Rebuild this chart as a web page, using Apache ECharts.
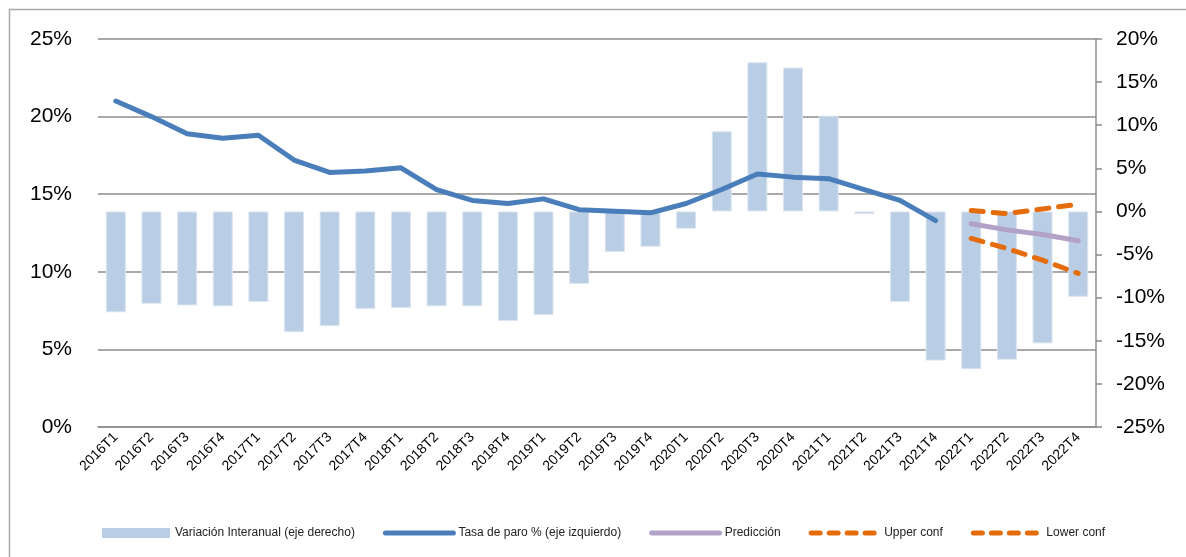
<!DOCTYPE html>
<html>
<head>
<meta charset="utf-8">
<script src="https://cdn.jsdelivr.net/npm/echarts@6/dist/echarts.min.js"></script>
<style>
  html, body { margin: 0; padding: 0; background: #fff; }
  #chart { width: 1186px; height: 557px; }
</style>
</head>
<body>
<div id="chart"></div>
<script>
// trimestres
let quarters = ['2016T1', '2016T2', '2016T3', '2016T4', '2017T1', '2017T2', '2017T3', '2017T4',
    '2018T1', '2018T2', '2018T3', '2018T4', '2019T1', '2019T2', '2019T3', '2019T4',
    '2020T1', '2020T2', '2020T3', '2020T4', '2021T1', '2021T2', '2021T3', '2021T4',
    '2022T1', '2022T2', '2022T3', '2022T4'];

// variación interanual (eje derecho, %)
let variacion = [-11.7, -10.7, -10.9, -11.0, -10.5, -14.0, -13.3, -11.3,
    -11.2, -11.0, -11.0, -12.7, -12.0, -8.4, -4.7, -4.1,
    -2.0, 9.3, 17.3, 16.7, 11.1, -0.3, -10.5, -17.3,
    -18.3, -17.2, -15.3, -9.9];

// tasa de paro (eje izquierdo, %)
let tasaParo = [21.0, 20.0, 18.9, 18.6, 18.8, 17.2, 16.4, 16.5,
    16.7, 15.3, 14.6, 14.4, 14.7, 14.0, 13.9, 13.8,
    14.4, 15.3, 16.3, 16.1, 16.0, 15.3, 14.6, 13.3,
    null, null, null, null];

// predicción y bandas de confianza (2022)
let prediccion = [13.1, 12.7, 12.4, 12.0];
let upperConf = [13.95, 13.75, 14.05, 14.35];
let lowerConf = [12.15, 11.5, 10.75, 9.9];

let leftTicks = [0, 25, 5];
let rightTicks = [-25, 20, 5];

let pad = function (arr) {
    let out = [];
    for (let i = 0; i < quarters.length - arr.length; i++) out.push(null);
    return out.concat(arr);
};

let chartDom = document.getElementById('chart');
let myChart = echarts.init(chartDom);

let axisFont = "'Liberation Sans', Arial, sans-serif";
let gridColor = '#8c8c8c';
let orange = '#e46c0a';
let dash = [12, 10];

// legend entries for lines: hide the symbol, keep only the stroke
let lineLegend = function (name, color, type) {
    return {
        name: name,
        itemStyle: { opacity: 0 },
        lineStyle: { color: color, width: 5, type: type || 'solid', cap: 'round' }
    };
};

let option = {
    animation: false,
    backgroundColor: '#fff',
    graphic: [{
        type: 'rect',
        shape: { x: 9.5, y: 9.5, width: 1400, height: 800 },
        style: { fill: null, stroke: '#ababab', lineWidth: 1.5 },
        silent: true
    }],
    grid: { left: 98, right: 90, top: 39, bottom: 130 },
    legend: {
        left: 97,
        top: 522,
        itemWidth: 68,
        itemHeight: 10,
        itemGap: 28,
        textStyle: { fontFamily: "'Liberation Sans Narrow', 'Liberation Sans', sans-serif", fontSize: 12, color: '#222' },
        data: [
            { name: 'Variación Interanual (eje derecho)', icon: 'rect', itemStyle: { borderWidth: 0 } },
            lineLegend('Tasa de paro % (eje izquierdo)', '#4a7ebb'),
            lineLegend('Predicción', '#b3a2c7'),
            lineLegend('Upper conf', orange, [9, 9]),
            lineLegend('Lower conf', orange, [9, 9])
        ]
    },
    xAxis: {
        type: 'category',
        data: quarters,
        boundaryGap: true,
        axisLine: { lineStyle: { color: gridColor, width: 1.5 } },
        axisTick: { show: false },
        axisLabel: {
            interval: 0,
            rotate: 45,
            margin: 8,
            fontFamily: axisFont,
            fontSize: 14,
            color: '#000'
        }
    },
    yAxis: [
        {
            type: 'value',
            min: leftTicks[0],
            max: leftTicks[1],
            interval: leftTicks[2],
            axisLine: { show: false },
            axisTick: { show: false },
            axisLabel: { formatter: '{value}%', fontFamily: axisFont, fontSize: 21, color: '#000', margin: 26 },
            splitLine: { lineStyle: { color: gridColor, width: 1.5 } }
        },
        {
            type: 'value',
            position: 'right',
            min: rightTicks[0],
            max: rightTicks[1],
            interval: rightTicks[2],
            axisLine: { show: true, lineStyle: { color: gridColor, width: 1.5 } },
            axisTick: { show: true, length: 6, lineStyle: { color: gridColor, width: 1.5 } },
            axisLabel: { formatter: '{value}%', fontFamily: axisFont, fontSize: 21, color: '#000', margin: 20 },
            splitLine: { show: false }
        }
    ],
    series: [
        {
            name: 'Variación Interanual (eje derecho)',
            type: 'bar',
            yAxisIndex: 1,
            barWidth: 20,
            data: variacion,
            itemStyle: { color: '#b9cde5', borderColor: '#dbe5f1', borderWidth: 1 }
        },
        {
            name: 'Tasa de paro % (eje izquierdo)',
            type: 'line',
            yAxisIndex: 0,
            data: tasaParo,
            symbol: 'none',
            lineStyle: { color: '#4a7ebb', width: 5, cap: 'round', join: 'round' },
            itemStyle: { color: '#4a7ebb' }
        },
        {
            name: 'Predicción',
            type: 'line',
            yAxisIndex: 0,
            data: pad(prediccion),
            symbol: 'none',
            lineStyle: { color: '#b3a2c7', width: 5, cap: 'round' },
            itemStyle: { color: '#b3a2c7' }
        },
        {
            name: 'Upper conf',
            type: 'line',
            yAxisIndex: 0,
            data: pad(upperConf),
            symbol: 'none',
            lineStyle: { color: orange, width: 5, type: dash, cap: 'round' },
            itemStyle: { color: orange }
        },
        {
            name: 'Lower conf',
            type: 'line',
            yAxisIndex: 0,
            data: pad(lowerConf),
            symbol: 'none',
            lineStyle: { color: orange, width: 5, type: dash, cap: 'round' },
            itemStyle: { color: orange }
        }
    ]
};

myChart.setOption(option);
</script>
</body>
</html>
